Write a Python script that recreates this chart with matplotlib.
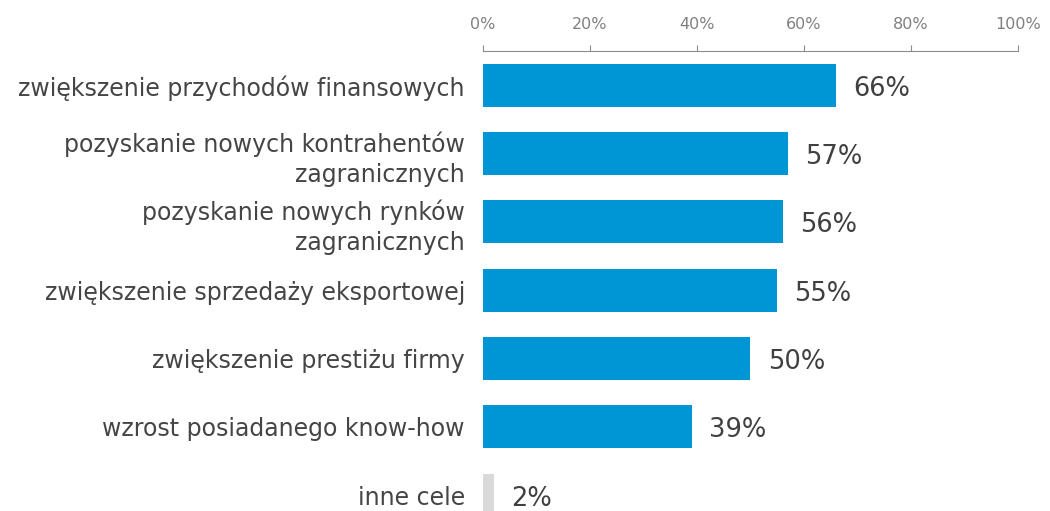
import numpy as np
import matplotlib.pyplot as plt

plt.rcParams['font.family'] = ['DejaVu Sans']

labels = ['zwiększenie przychodów finansowych',
          'pozyskanie nowych kontrahentów\nzagranicznych',
          'pozyskanie nowych rynków\nzagranicznych',
          'zwiększenie sprzedaży eksportowej',
          'zwiększenie prestiżu firmy',
          'wzrost posiadanego know-how',
          'inne cele']
values = [66, 57, 56, 55, 50, 39, 2]
colors = ['#0096d6'] * 6 + ['#d9d9d9']
ticks = [0, 20, 40, 60, 80, 100]

fig = plt.figure(figsize=(10.5, 5.11), dpi=100)
ax = fig.add_axes([0.46, 0.0, 0.5095, 0.9])

y = np.arange(len(values))
ax.barh(y, values, height=0.63, color=colors)
for yi, v in zip(y, values):
    ax.text(v + 3.2, yi + 0.05, f'{v}%', va='center', ha='left',
            fontsize=18.5, color='#404040')

ax.set_xlim(0, 100)
ax.set_ylim(6.23, -0.5)
ax.set_yticks(y)
ax.set_yticklabels(labels, fontsize=17, color='#454545', linespacing=1.3)
ax.tick_params(axis='y', length=0, pad=13)

ax.xaxis.tick_top()
ax.set_xticks(ticks)
ax.set_xticklabels([f'{t}%' for t in ticks], fontsize=11.5, color='#808080')
ax.tick_params(axis='x', direction='out', length=4, color='#8c8c8c', pad=9.5)

for s in ['left', 'right', 'bottom']:
    ax.spines[s].set_visible(False)
ax.spines['top'].set_color('#8c8c8c')

fig.savefig('out.png', dpi=100)
